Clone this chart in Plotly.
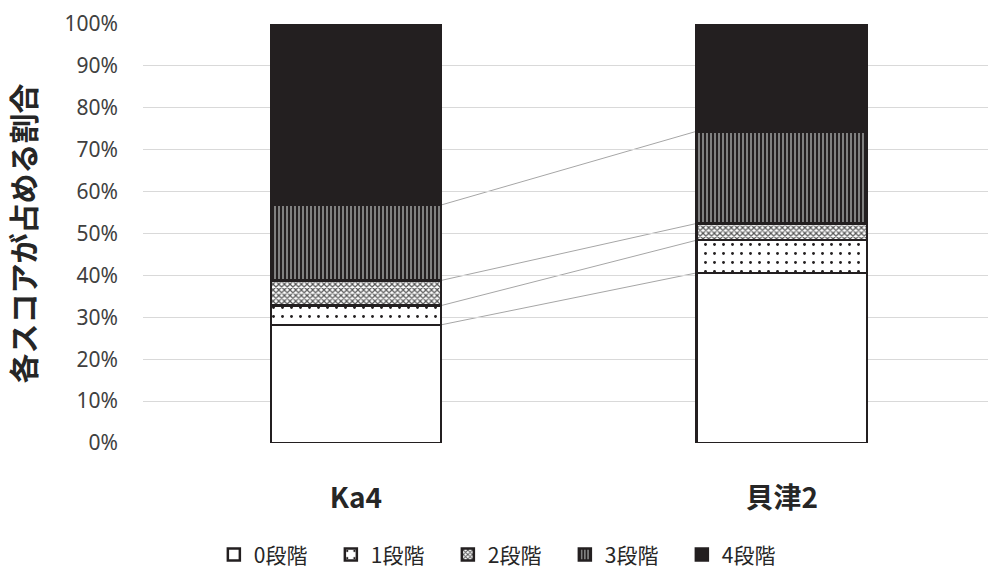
import plotly.graph_objects as go
import numpy as np

categories = ["Ka4", "貝津2"]
series_names = ["0段階", "1段階", "2段階", "3段階", "4段階"]
s0 = [0.282, 0.406]
s1 = [0.046, 0.078]
s2 = [0.060, 0.040]
s3 = [0.180, 0.220]
s4 = [0.432, 0.256]
values = [s0, s1, s2, s3, s4]

y_ticks = [0, 0.1, 0.2, 0.3, 0.4, 0.5, 0.6, 0.7, 0.8, 0.9, 1.0]
y_tick_labels = ["0%", "10%", "20%", "30%", "40%", "50%", "60%", "70%", "80%", "90%", "100%"]

DARK = "#231f20"
patterns = [
    dict(bg="white", shape="", fg=DARK, size=8, solidity=0.3),
    dict(bg="white", shape=".", fg=DARK, size=9, solidity=0.08),
    dict(bg="white", shape="x", fg="#555555", size=4, solidity=0.5),
    dict(bg="#8a8a8a", shape="|", fg=DARK, size=4, solidity=0.55),
    dict(bg=DARK, shape="", fg=DARK, size=8, solidity=0.3),
]

BAR_W = 0.40
fig = go.Figure()
for name, vals, p in zip(series_names, values, patterns):
    fig.add_trace(go.Bar(
        x=categories, y=vals, name=name, width=BAR_W,
        marker=dict(color=p["bg"], line=dict(color=DARK, width=2.5),
                    pattern=dict(shape=p["shape"], fgcolor=p["fg"], bgcolor=p["bg"],
                                 size=p["size"], solidity=p["solidity"], fillmode="replace")),
    ))

# connector lines between stacked boundaries
cum = np.cumsum(np.array(values), axis=0)
for i in range(len(series_names) - 1):
    fig.add_shape(type="line", xref="x", yref="y",
                  x0=0 + BAR_W / 2, y0=cum[i][0], x1=1 - BAR_W / 2, y1=cum[i][1],
                  line=dict(color="#a6a6a6", width=1), layer="below")

fig.update_layout(
    barmode="stack",
    width=988, height=570,
    margin=dict(l=143, r=0, t=24, b=127, autoexpand=False),
    plot_bgcolor="white", paper_bgcolor="white",
    font=dict(family="Noto Sans CJK JP, Noto Sans, sans-serif", color="#404040"),
    showlegend=True,
    legend=dict(orientation="h", x=0.43, xanchor="center", y=-0.267, yanchor="middle",
                font=dict(size=21, color="#262626"), traceorder="normal",
                itemwidth=30, entrywidth=72),
)
fig.update_xaxes(range=[-0.5, 1.484], showgrid=False, showline=False, zeroline=False,
                 tickvals=categories, ticktext=["<b>" + c + "</b>" for c in categories],
                 tickfont=dict(size=28, color="#262626", family="Noto Sans CJK JP"),
                 ticklabelstandoff=36, automargin=False)
fig.update_yaxes(range=[0, 1], tickvals=y_ticks, ticktext=y_tick_labels,
                 showgrid=True, gridcolor="#d9d9d9", gridwidth=1, zeroline=False,
                 tickfont=dict(size=21, color="#404040", family="Noto Sans"),
                 ticklabelstandoff=24, automargin=False,
                 title=dict(text="<b>各スコアが占める割合</b>", standoff=28,
                            font=dict(size=30, color="#262626", family="Noto Sans CJK JP")))

fig.write_html("out.html")
